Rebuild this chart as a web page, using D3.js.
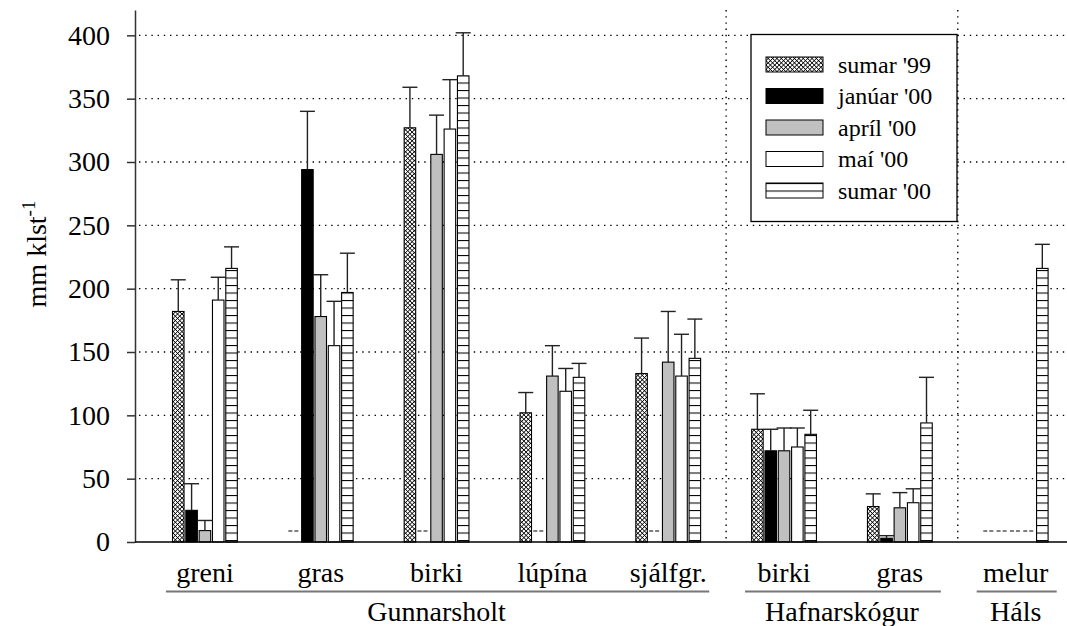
<!DOCTYPE html>
<html>
<head>
<meta charset="utf-8">
<script src="https://cdn.jsdelivr.net/npm/d3@7"></script>
<style>
  body { margin: 0; background: #fff; }
  text { font-family: "Liberation Serif", "Times New Roman", serif; fill: #000; }
</style>
</head>
<body>
<svg id="chart" width="1067" height="626"></svg>
<script>
// categories along the x axis, and the site each one belongs to
const categories = ['greni', 'gras', 'birki', 'lúpína', 'sjálfgr.', 'birki', 'gras', 'melur'];
const sites = ['Gunnarsholt', 'Hafnarskógur', 'Háls'];
const siteOf = [0, 0, 0, 0, 0, 1, 1, 2];

// series (null = no measurement, drawn as "--")
const seriesNames = ["sumar '99", "janúar '00", "apríl '00", "maí '00", "sumar '00"];
const sumar99 = [182, null, 327, 102, 133, 89, 28, null];
const sumar99Err = [25, null, 32, 16, 28, 28, 10, null];
const januar00 = [25, 294, null, null, null, 72, 3, null];
const januar00Err = [21, 46, null, null, null, 17, 2, null];
const april00 = [9, 178, 306, 131, 142, 72, 27, null];
const april00Err = [8, 33, 31, 24, 40, 18, 12, null];
const mai00 = [191, 155, 326, 119, 131, 75, 31, null];
const mai00Err = [18, 35, 39, 18, 33, 15, 11, null];
const sumar00 = [216, 197, 368, 130, 145, 85, 94, 216];
const sumar00Err = [17, 31, 34, 11, 31, 19, 36, 19];

const yTicks = [0, 50, 100, 150, 200, 250, 300, 350, 400];

const values = [sumar99, januar00, april00, mai00, sumar00];
const errors = [sumar99Err, januar00Err, april00Err, mai00Err, sumar00Err];
const fills = ['url(#cross)', '#000', '#c0c0c0', '#fff', 'url(#hstripe)'];

const svg = d3.select('#chart');

// patterns
const defs = svg.append('defs');
const cross = defs.append('pattern')
    .attr('id', 'cross')
    .attr('patternUnits', 'userSpaceOnUse')
    .attr('width', 3.1).attr('height', 3.1)
    .attr('patternTransform', 'rotate(45)');
cross.append('rect').attr('width', 3.1).attr('height', 3.1).attr('fill', '#fff');
cross.append('path').attr('d', 'M0,0 L0,3.1 M0,0 L3.1,0')
    .attr('stroke', '#000').attr('stroke-width', 1.5);

const hs = defs.append('pattern')
    .attr('id', 'hstripe')
    .attr('patternUnits', 'userSpaceOnUse')
    .attr('width', 8).attr('height', 7.5);
hs.append('rect').attr('width', 8).attr('height', 7.5).attr('fill', '#fff');
hs.append('line').attr('x1', 0).attr('x2', 8).attr('y1', 0.5).attr('y2', 0.5)
    .attr('stroke', '#000').attr('stroke-width', 1.1);

// scales
const y = d3.scaleLinear().domain([0, 420]).range([542, 10]);
const x = d3.scaleBand().domain(d3.range(categories.length)).range([147, 1073.6]);
const half = 32.4;
const xs = d3.scaleBand().domain(d3.range(seriesNames.length))
    .range([x.bandwidth() / 2 - half, x.bandwidth() / 2 + half])
    .paddingInner(0.135);
const plotLeft = 135, plotRight = 1067;

// gridlines
svg.append('g')
    .selectAll('line')
    .data(yTicks.filter(d => d > 0))
    .enter()
    .append('line')
    .attr('x1', plotLeft + 4).attr('x2', plotRight)
    .attr('y1', d => y(d)).attr('y2', d => y(d))
    .attr('stroke', '#000')
    .attr('stroke-width', 1.4)
    .attr('stroke-dasharray', '1.4,4.8');

// site separators
const sepIdx = d3.range(1, categories.length).filter(i => siteOf[i] !== siteOf[i - 1]);
svg.append('g')
    .selectAll('line')
    .data(sepIdx)
    .enter()
    .append('line')
    .attr('x1', d => x(d)).attr('x2', d => x(d))
    .attr('y1', y(420)).attr('y2', y(0))
    .attr('stroke', '#000')
    .attr('stroke-width', 1.4)
    .attr('stroke-dasharray', '1.4,4.8');

// bars
const cells = [];
categories.forEach((c, i) => {
    seriesNames.forEach((s, k) => {
        cells.push({ i, k, v: values[k][i], e: errors[k][i] });
    });
});

const barG = svg.append('g');
barG.selectAll('rect')
    .data(cells.filter(d => d.v !== null))
    .enter()
    .append('rect')
    .attr('x', d => x(d.i) + xs(d.k))
    .attr('width', xs.bandwidth())
    .attr('y', d => y(d.v))
    .attr('height', d => y(0) - y(d.v))
    .attr('fill', d => fills[d.k])
    .attr('stroke', '#000')
    .attr('stroke-width', 1.1);

// missing values
barG.selectAll('line.miss')
    .data(cells.filter(d => d.v === null))
    .enter()
    .append('line')
    .attr('class', 'miss')
    .attr('x1', d => x(d.i) + xs(d.k))
    .attr('x2', d => x(d.i) + xs(d.k) + xs.bandwidth())
    .attr('y1', y(0) - 11).attr('y2', y(0) - 11)
    .attr('stroke', '#000')
    .attr('stroke-width', 1.2)
    .attr('stroke-dasharray', '4,2');

// error bars
const errG = svg.append('g').attr('stroke', '#222').attr('stroke-width', 1.4);
const withErr = cells.filter(d => d.v !== null && d.e !== null);
errG.selectAll('line.v')
    .data(withErr)
    .enter()
    .append('line')
    .attr('x1', d => x(d.i) + xs(d.k) + xs.bandwidth() / 2)
    .attr('x2', d => x(d.i) + xs(d.k) + xs.bandwidth() / 2)
    .attr('y1', d => y(d.v))
    .attr('y2', d => y(d.v + d.e));
errG.selectAll('line.cap')
    .data(withErr)
    .enter()
    .append('line')
    .attr('x1', d => x(d.i) + xs(d.k) + xs.bandwidth() / 2 - 7.5)
    .attr('x2', d => x(d.i) + xs(d.k) + xs.bandwidth() / 2 + 7.5)
    .attr('y1', d => y(d.v + d.e))
    .attr('y2', d => y(d.v + d.e));

// axes
const yAxis = svg.append('g')
    .attr('transform', `translate(${plotLeft},0)`)
    .call(d3.axisLeft(y).tickValues(yTicks).tickSize(8).tickSizeOuter(0).tickPadding(17));
yAxis.select('.domain').attr('stroke', '#333').attr('stroke-width', 1.5);
yAxis.selectAll('.tick line').attr('stroke', '#333').attr('stroke-width', 1.5);
yAxis.selectAll('text').attr('font-size', 28)
    .style('font-family', '"Liberation Serif", "Times New Roman", serif');

svg.append('line')
    .attr('x1', plotLeft).attr('x2', plotRight)
    .attr('y1', y(0)).attr('y2', y(0))
    .attr('stroke', '#000').attr('stroke-width', 1.5);

// y label
const yl = svg.append('text')
    .attr('transform', `translate(46,${(y(0) + y(420)) / 2 - 22}) rotate(-90)`)
    .attr('text-anchor', 'middle')
    .attr('font-size', 28);
yl.append('tspan').text('mm klst');
yl.append('tspan').attr('font-size', 19).attr('dy', -11).text('-1');

// category labels
svg.append('g')
    .selectAll('text')
    .data(categories)
    .enter()
    .append('text')
    .attr('x', (d, i) => x(i) + x.bandwidth() / 2)
    .attr('y', 582)
    .attr('text-anchor', 'middle')
    .attr('font-size', 28)
    .text(d => d);

// site underlines and labels
const siteSpans = sites.map((s, j) => {
    const idx = d3.range(categories.length).filter(i => siteOf[i] === j);
    const c0 = x(idx[0]) + x.bandwidth() / 2;
    const c1 = x(idx[idx.length - 1]) + x.bandwidth() / 2;
    return { s, c0, c1 };
});
svg.append('g')
    .selectAll('line')
    .data(siteSpans)
    .enter()
    .append('line')
    .attr('x1', d => d.c0 - 39)
    .attr('x2', d => Math.min(d.c1 + 41, plotRight))
    .attr('y1', 591.5).attr('y2', 591.5)
    .attr('stroke', '#777').attr('stroke-width', 2);
svg.append('g')
    .selectAll('text')
    .data(siteSpans)
    .enter()
    .append('text')
    .attr('x', d => (d.c0 + d.c1) / 2)
    .attr('y', 621)
    .attr('text-anchor', 'middle')
    .attr('font-size', 28)
    .text(d => d.s);

// legend
const lg = svg.append('g');
lg.append('rect')
    .attr('x', 751).attr('y', 34.5)
    .attr('width', 206).attr('height', 187)
    .attr('fill', '#fff').attr('stroke', '#000').attr('stroke-width', 1.3);
const items = lg.selectAll('g.item')
    .data(seriesNames)
    .enter()
    .append('g')
    .attr('class', 'item')
    .attr('transform', (d, k) => `translate(766,${64.5 + 31.5 * k})`);
items.append('rect')
    .attr('x', 0).attr('y', -7.5)
    .attr('width', 57).attr('height', 15)
    .attr('fill', (d, k) => fills[k])
    .attr('stroke', '#000').attr('stroke-width', 1);
items.append('text')
    .attr('x', 72).attr('y', 0).attr('dy', '0.35em')
    .attr('font-size', 24)
    .text(d => d);
</script>
</body>
</html>
